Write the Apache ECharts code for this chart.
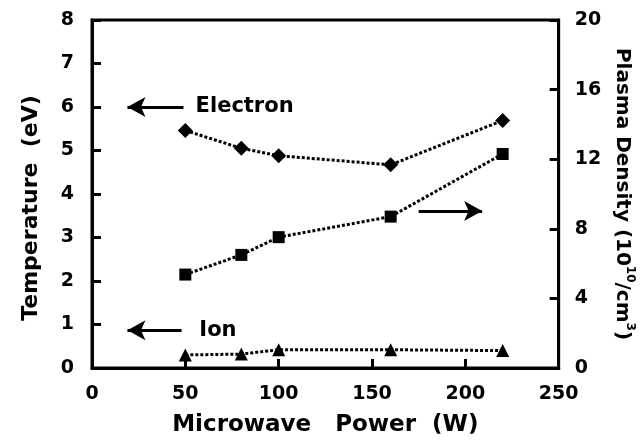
<!DOCTYPE html>
<html>
<head>
<meta charset="utf-8">
<script src="https://cdn.jsdelivr.net/npm/echarts@6/dist/echarts.min.js"></script>
<style>html,body{margin:0;padding:0;background:#fff}#c{width:644px;height:442px}</style>
</head>
<body>
<div id="c"></div>
<script>
// ---- data ----
var power = [50, 80, 100, 160, 220];
var electronTemp = [5.46, 5.05, 4.88, 4.67, 5.69];
var ionTemp = [0.30, 0.32, 0.42, 0.42, 0.40];
var plasmaDensity = [5.37, 6.5, 7.52, 8.7, 12.3];
var xTicks = [0, 50, 100, 150, 200, 250];
var leftTicks = [0, 1, 2, 3, 4, 5, 6, 7, 8];
var rightTicks = [0, 4, 8, 12, 16, 20];
// annotation arrows (data coords): [fromX, fromY, toX, toY]
var arrowElectron = [49, 6, 19, 6];
var arrowIon = [48, 0.87, 19, 0.87];
var arrowDensity = [175, 9.03, 209, 9.03];
var labelElectron = [55.5, 6, 'Electron'];
var labelIon = [57.5, 0.87, 'Ion'];

var FONT = 'DejaVu Sans';
var chart = echarts.init(document.getElementById('c'), null, {renderer: 'canvas'});

function arrowSeries(a, yIdx) {
  return {
    type: 'line', yAxisIndex: yIdx, data: [], silent: true,
    markLine: {
      silent: true, animation: false,
      symbol: ['none', 'arrow'], symbolSize: [15, 18],
      label: {show: false},
      lineStyle: {color: '#000', width: 3, type: 'solid', opacity: 1},
      data: [[{coord: [a[0], a[1]]}, {coord: [a[2], a[3]]}]]
    }
  };
}
function textSeries(l) {
  return {
    type: 'scatter', yAxisIndex: 0, silent: true, symbolSize: 0,
    itemStyle: {opacity: 1, color: '#000'},
    data: [[l[0], l[1]]],
    label: {show: true, position: 'right', distance: 0, formatter: l[2],
      fontFamily: FONT, fontWeight: 'bold', fontSize: 21, color: '#000', opacity: 1}
  };
}
var lineStyle = {color: '#000', width: 3, type: [3, 2]};

chart.setOption({
  animation: false,
  backgroundColor: '#fff',
  grid: {left: 92, right: 84, top: 20, bottom: 72, show: true, borderColor: '#000', borderWidth: 3, backgroundColor: 'transparent'},
  xAxis: {
    type: 'value', min: 0, max: 250, interval: 50,
    name: 'Microwave   Power  (W)', nameLocation: 'middle', nameGap: 46,
    nameTextStyle: {fontFamily: FONT, fontWeight: 'bold', fontSize: 23, color: '#000'},
    axisLine: {lineStyle: {color: '#000', width: 3}},
    axisTick: {inside: true, length: 9, lineStyle: {width: 3, color: '#000'}},
    axisLabel: {margin: 17, fontFamily: FONT, fontWeight: 'bold', fontSize: 19, color: '#000',
      formatter: function (v) { return xTicks.indexOf(v) >= 0 ? String(v) : ''; }},
    splitLine: {show: false}
  },
  yAxis: [{
    type: 'value', min: 0, max: 8, interval: 1, position: 'left',
    name: 'Temperature  (eV)', nameLocation: 'middle', nameGap: 50,
    nameTextStyle: {fontFamily: FONT, fontWeight: 'bold', fontSize: 22, color: '#000', padding: [0, 28, 0, 0]},
    axisLine: {show: true, lineStyle: {color: '#000', width: 3}},
    axisTick: {show: true, inside: true, length: 9, lineStyle: {width: 3, color: '#000'}},
    axisLabel: {margin: 18, fontFamily: FONT, fontWeight: 'bold', fontSize: 19, color: '#000',
      formatter: function (v) { return leftTicks.indexOf(v) >= 0 ? String(v) : ''; }},
    splitLine: {show: false}
  }, {
    type: 'value', min: 0, max: 20, interval: 4, position: 'right',
    name: '{n|Plasma Density (10}{s|10}{n|/cm}{s|3}{n|)}', nameLocation: 'middle', nameGap: 52, nameRotate: -90,
    nameTextStyle: {color: '#000',
      rich: {
        n: {fontFamily: FONT, fontWeight: 'bold', fontSize: 20, color: '#000', lineHeight: 24, verticalAlign: 'bottom'},
        s: {fontFamily: FONT, fontWeight: 'bold', fontSize: 12, color: '#000', lineHeight: 24, verticalAlign: 'top'}
      }},
    axisLine: {show: true, lineStyle: {color: '#000', width: 3}},
    axisTick: {show: true, inside: true, length: 9, lineStyle: {width: 3, color: '#000'}},
    axisLabel: {margin: 16, fontFamily: FONT, fontWeight: 'bold', fontSize: 19, color: '#000',
      formatter: function (v) { return rightTicks.indexOf(v) >= 0 ? String(v) : ''; }},
    splitLine: {show: false}
  }],
  series: [
    {type: 'line', name: 'Electron', yAxisIndex: 0, data: power.map(function (p, i) { return [p, electronTemp[i]]; }),
      symbol: 'diamond', symbolSize: 15, itemStyle: {color: '#000'}, lineStyle: lineStyle},
    {type: 'line', name: 'Ion', yAxisIndex: 0, data: power.map(function (p, i) { return [p, ionTemp[i]]; }),
      symbol: 'triangle', symbolSize: 13, itemStyle: {color: '#000'}, lineStyle: lineStyle},
    {type: 'line', name: 'Density', yAxisIndex: 1, data: power.map(function (p, i) { return [p, plasmaDensity[i]]; }),
      symbol: 'rect', symbolSize: 12, itemStyle: {color: '#000'}, lineStyle: lineStyle},
    arrowSeries(arrowElectron, 0),
    arrowSeries(arrowIon, 0),
    arrowSeries(arrowDensity, 1),
    textSeries(labelElectron),
    textSeries(labelIon)
  ]
});
</script>
</body>
</html>
